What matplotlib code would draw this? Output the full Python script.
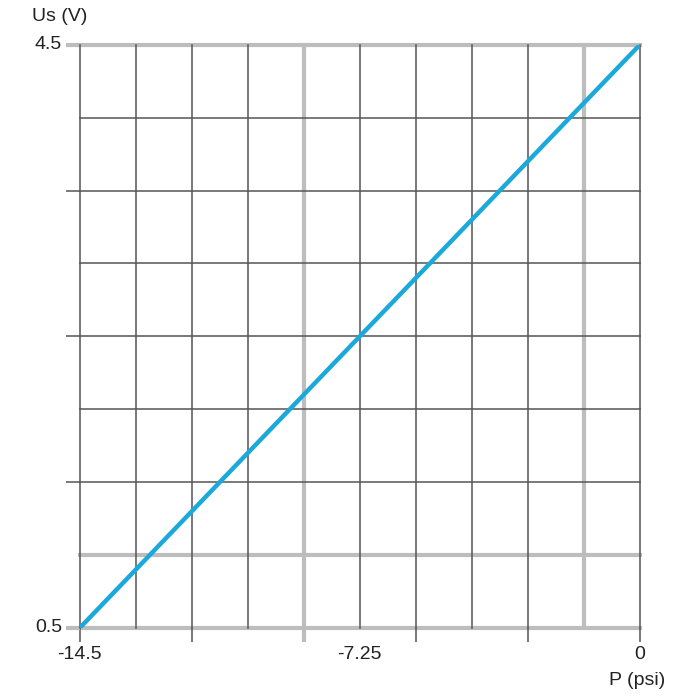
import numpy as np
import matplotlib
matplotlib.use("Agg")
import matplotlib.pyplot as plt

# sensor characteristic: pressure (psi) vs output voltage (V)
pressure = [-14.5, 0.0]
voltage = [0.5, 4.5]

x_grid = np.linspace(-14.5, 0, 11)
y_grid = np.linspace(0.5, 4.5, 9)
x_gray = [4, 9]
y_gray = [0, 1, 8]
x_ticks_idx = [0, 2, 4, 6, 8, 10]
y_ticks_idx = [0, 2, 4, 6, 8]
x_labels = {0: '-14.5', 5: '-7.25', 10: '0'}
y_labels = {0: '0.5', 8: '4.5'}

dark = '#555555'
gray = '#bdbdbd'
blue = '#1ba9dc'

plt.rcParams['font.family'] = ['Liberation Sans', 'DejaVu Sans']
plt.rcParams['font.size'] = 14

fig = plt.figure(figsize=(7, 7), dpi=100)
ax = fig.add_axes([0.114, 0.103, 0.8, 0.833])
ax.set_xlim(-14.5, 0)
ax.set_ylim(0.5, 4.5)
for s in ax.spines.values():
    s.set_visible(False)

for i, xv in enumerate(x_grid):
    g = i in x_gray
    ax.axvline(xv, color=gray if g else dark, lw=3 if g else 1.1,
               zorder=1 if g else 2, clip_on=False)
for i, yv in enumerate(y_grid):
    g = i in y_gray
    ax.axhline(yv, color=gray if g else dark, lw=3 if g else 1.1,
               zorder=1 if g else 2, clip_on=False)

# outside tick stubs
ax.set_xticks(x_grid[x_ticks_idx])
ax.set_xticklabels([])
ax.set_yticks(y_grid[y_ticks_idx])
ax.set_yticklabels([])
ax.tick_params(axis='both', length=10, width=1.1, color=dark)
for i, t in zip(x_ticks_idx, ax.xaxis.get_major_ticks()):
    if i in x_gray:
        t.tick1line.set_markeredgecolor(gray)
        t.tick1line.set_markeredgewidth(3)
for i, t in zip(y_ticks_idx, ax.yaxis.get_major_ticks()):
    if i in y_gray:
        t.tick1line.set_markeredgecolor(gray)
        t.tick1line.set_markeredgewidth(3)

for i, lab in x_labels.items():
    ax.text(x_grid[i], -0.046, lab, transform=ax.get_xaxis_transform(),
            ha='center', va='center', color='#222222')
for i, lab in y_labels.items():
    ax.text(-0.032, y_grid[i], lab, transform=ax.get_yaxis_transform(),
            ha='right', va='center', color='#222222')

ax.text(0.996, -0.091, 'P (psi)', transform=ax.transAxes, ha='center',
        va='center', color='#222222')
ax.text(-0.036, 1.048, 'Us (V)', transform=ax.transAxes, ha='center',
        va='center', color='#222222')

ax.plot(pressure, voltage, color=blue, lw=3.2, zorder=3, solid_capstyle='butt')

fig.savefig('out.png', dpi=100)
